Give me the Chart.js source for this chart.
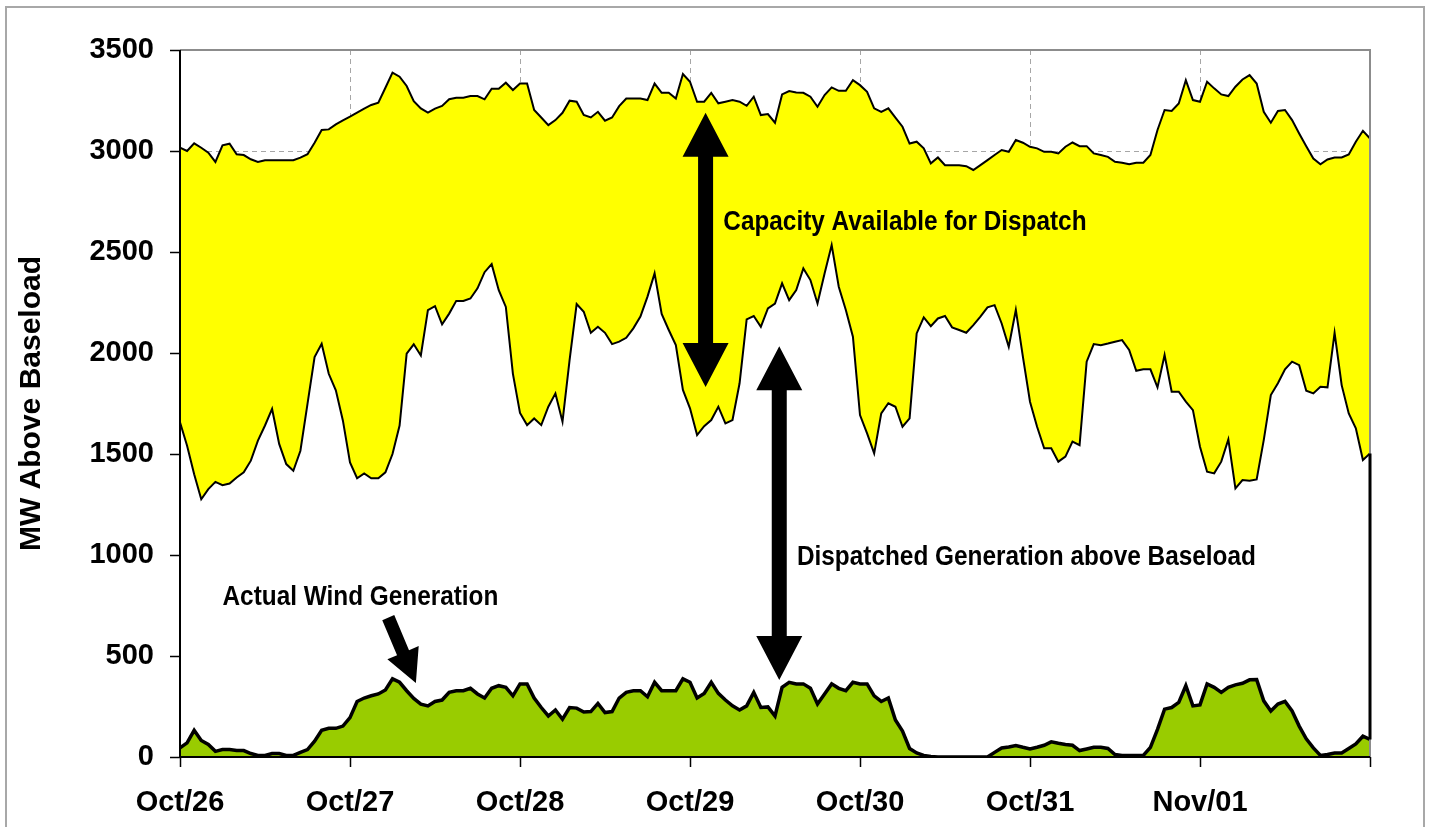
<!DOCTYPE html>
<html>
<head>
<meta charset="utf-8">
<title>MW Above Baseload</title>
<script src="https://cdn.jsdelivr.net/npm/chart.js@4.4.1/dist/chart.umd.min.js"></script>
<style>
  html, body { margin: 0; padding: 0; background: #fff; }
  canvas { display: block; }
</style>
</head>
<body>
<canvas id="myChart" width="1430" height="827"></canvas>
<script>
// hourly readings, Oct/26 00:00 .. Nov/02 00:00 (one row per day)
var dayLabels = ['Oct/26', 'Oct/27', 'Oct/28', 'Oct/29', 'Oct/30', 'Oct/31', 'Nov/01'];
var yTicks = [0, 500, 1000, 1500, 2000, 2500, 3000, 3500];

var capacity = [
  3016, 3000, 3038, 3016, 2992, 2946, 3028, 3036, 2984, 2980, 2959, 2946, 2954, 2954, 2954, 2954, 2954, 2967, 2984, 3041, 3104, 3107, 3132, 3152,
  3170, 3190, 3210, 3228, 3239, 3313, 3388, 3368, 3322, 3247, 3211, 3190, 3210, 3223, 3256, 3264, 3264, 3272, 3272, 3256, 3308, 3308, 3338, 3302,
  3334, 3334, 3203, 3166, 3128, 3153, 3189, 3249, 3244, 3178, 3166, 3194, 3150, 3166, 3222, 3260, 3260, 3260, 3252, 3334, 3288, 3288, 3260, 3381,
  3343, 3244, 3244, 3288, 3236, 3244, 3252, 3244, 3224, 3269, 3178, 3183, 3140, 3280, 3297, 3290, 3288, 3269, 3219, 3277, 3315, 3298, 3298, 3351,
  3326, 3293, 3211, 3194, 3211, 3165, 3120, 3037, 3046, 3013, 2939, 2968, 2930, 2930, 2930, 2925, 2906, 2930, 2955, 2980, 3005, 2996, 3054, 3041,
  3021, 3013, 2996, 2996, 2988, 3021, 3042, 3024, 3024, 2988, 2980, 2971, 2947, 2942, 2934, 2942, 2942, 2980, 3104, 3203, 3198, 3235, 3351, 3252,
  3244, 3343, 3310, 3280, 3272, 3318, 3354, 3376, 3334, 3194, 3140, 3198, 3203, 3153, 3087, 3024, 2963, 2934, 2958, 2968, 2968, 2983, 3046, 3100,
  3062
];

var dispatched = [
  1657, 1541, 1400, 1276, 1326, 1362, 1346, 1354, 1384, 1409, 1467, 1566, 1641, 1723, 1550, 1450, 1417, 1516, 1748, 1980, 2046, 1897, 1815, 1665,
  1458, 1380, 1404, 1380, 1380, 1409, 1500, 1641, 1997, 2043, 1988, 2212, 2232, 2142, 2195, 2258, 2258, 2270, 2320, 2400, 2440, 2311, 2228, 1897,
  1703, 1643, 1676, 1643, 1734, 1800, 1660, 1965, 2242, 2204, 2100, 2130, 2100, 2044, 2056, 2075, 2122, 2180, 2279, 2394, 2193, 2114, 2039, 1817,
  1726, 1594, 1638, 1668, 1734, 1651, 1668, 1850, 2166, 2183, 2130, 2221, 2245, 2345, 2262, 2312, 2419, 2361, 2245, 2394, 2534, 2328, 2213, 2081,
  1693, 1602, 1503, 1701, 1751, 1734, 1635, 1676, 2097, 2176, 2133, 2171, 2183, 2127, 2114, 2100, 2138, 2180, 2226, 2237, 2146, 2031, 2213, 1981,
  1759, 1635, 1528, 1528, 1462, 1487, 1561, 1544, 1957, 2044, 2039, 2047, 2056, 2064, 2015, 1912, 1919, 1919, 1830, 1990, 1808, 1808, 1759, 1717,
  1536, 1412, 1404, 1462, 1572, 1330, 1371, 1368, 1374, 1569, 1792, 1850, 1919, 1957, 1940, 1813, 1800, 1833, 1830, 2100, 1841, 1701, 1627, 1470,
  1503
];

var wind = [
  45, 70, 132, 82, 62, 28, 37, 37, 32, 32, 17, 8, 8, 17, 17, 8, 8, 23, 37, 78, 132, 142, 142, 153,
  195, 275, 292, 303, 312, 332, 387, 370, 328, 290, 262, 253, 275, 282, 320, 328, 328, 340, 312, 292, 340, 353, 345, 303,
  362, 362, 292, 245, 203, 233, 187, 245, 242, 223, 225, 265, 220, 225, 292, 320, 328, 328, 298, 370, 328, 328, 328, 387,
  370, 292, 315, 370, 315, 282, 253, 233, 253, 320, 245, 248, 203, 345, 370, 362, 362, 340, 262, 312, 362, 340, 328, 370,
  362, 362, 303, 275, 292, 183, 128, 42, 20, 8, 2, 0, 0, 0, 0, 0, 0, 0, 0, 23, 45, 50, 57, 48,
  40, 48, 58, 75, 68, 62, 58, 32, 40, 48, 48, 42, 12, 8, 8, 8, 8, 48, 137, 237, 245, 270, 353, 253,
  258, 362, 345, 320, 345, 357, 365, 382, 383, 278, 228, 262, 275, 228, 153, 90, 45, 8, 12, 20, 20, 42, 65, 103,
  87
];

var hours = capacity.map(function (v, i) { return i; });

// callouts, placed in data units (hour, MW)
var noteText = ['Capacity Available for Dispatch', 'Dispatched Generation above Baseload', 'Actual Wind Generation'];
var noteHour = [76.7, 87.1, 6.0];
var noteMW = [2609, 950, 752];

// arrows: [hourFrom, mwFrom, hourTo, mwTo, twoHeads]
var arrows = [
  [74.2, 3189, 74.2, 1832, true],
  [84.6, 2034, 84.6, 381, true],
  [29.4, 690, 33.3, 366, false]
];

var FONT = '"Liberation Sans", Arial, Helvetica, sans-serif';

function arrowPath(ctx, x0, y0, x1, y1, both, shaft, headLen, headW) {
  var dx = x1 - x0, dy = y1 - y0, len = Math.sqrt(dx * dx + dy * dy);
  var ux = dx / len, uy = dy / len, nx = -uy, ny = ux;
  var b0x = both ? x0 + ux * headLen : x0, b0y = both ? y0 + uy * headLen : y0;
  var b1x = x1 - ux * headLen, b1y = y1 - uy * headLen;
  var s = shaft / 2, h = headW / 2;
  ctx.beginPath();
  if (both) {
    ctx.moveTo(x0, y0);
    ctx.lineTo(b0x + nx * h, b0y + ny * h);
  } else {
    ctx.moveTo(b0x + nx * s, b0y + ny * s);
  }
  ctx.lineTo(b0x + nx * s, b0y + ny * s);
  ctx.lineTo(b1x + nx * s, b1y + ny * s);
  ctx.lineTo(b1x + nx * h, b1y + ny * h);
  ctx.lineTo(x1, y1);
  ctx.lineTo(b1x - nx * h, b1y - ny * h);
  ctx.lineTo(b1x - nx * s, b1y - ny * s);
  ctx.lineTo(b0x - nx * s, b0y - ny * s);
  if (both) ctx.lineTo(b0x - nx * h, b0y - ny * h);
  ctx.closePath();
  ctx.fill();
}

var decorations = {
  id: 'decorations',
  afterDatasetsDraw: function (chart) {
    var ctx = chart.ctx, a = chart.chartArea;
    var xs = chart.scales.x, ys = chart.scales.y;
    ctx.save();

    // outer frame
    ctx.strokeStyle = '#a8a8a8';
    ctx.lineWidth = 2;
    ctx.beginPath();
    ctx.moveTo(6, 827); ctx.lineTo(6, 7); ctx.lineTo(1424, 7); ctx.lineTo(1424, 827);
    ctx.stroke();

    // plot border: grey top/right, black axes
    ctx.strokeStyle = '#8c8c8c';
    ctx.lineWidth = 2;
    ctx.beginPath();
    ctx.moveTo(a.left, a.top); ctx.lineTo(a.right, a.top); ctx.lineTo(a.right, a.bottom);
    ctx.stroke();

    var last = hours.length - 1;
    var xe = xs.getPixelForValue(hours[last]);
    ctx.strokeStyle = '#000';
    ctx.lineWidth = 3;
    ctx.beginPath();
    ctx.moveTo(xe, ys.getPixelForValue(dispatched[last]));
    ctx.lineTo(xe, ys.getPixelForValue(wind[last]));
    ctx.stroke();

    ctx.lineWidth = 2;
    ctx.beginPath();
    ctx.moveTo(a.left, a.top); ctx.lineTo(a.left, a.bottom); ctx.lineTo(a.right, a.bottom);
    ctx.stroke();

    // arrows
    ctx.fillStyle = '#000';
    arrows.forEach(function (r, i) {
      var big = i < 2;
      arrowPath(ctx,
        xs.getPixelForValue(r[0]), ys.getPixelForValue(r[1]),
        xs.getPixelForValue(r[2]), ys.getPixelForValue(r[3]),
        r[4], big ? 15 : 13, big ? 44 : 33, big ? 46 : 34);
    });

    // callout text (condensed bold)
    ctx.font = 'bold 28px ' + FONT;
    ctx.textBaseline = 'alphabetic';
    ctx.textAlign = 'left';
    noteText.forEach(function (t, i) {
      ctx.save();
      ctx.translate(xs.getPixelForValue(noteHour[i]), ys.getPixelForValue(noteMW[i]));
      ctx.scale(0.87, 1);
      ctx.fillText(t, 0, 0);
      ctx.restore();
    });

    ctx.restore();
  }
};

var ctx = document.getElementById('myChart');

var myChart = new Chart(ctx, {
  type: 'line',
  data: {
    labels: hours,
    datasets: [{
      label: 'Actual Wind Generation',
      data: wind,
      borderColor: '#000',
      borderWidth: 3.5,
      backgroundColor: '#99CC00',
      fill: 'origin'
    }, {
      label: 'Dispatched Generation above Baseload',
      data: dispatched,
      borderColor: '#000',
      borderWidth: 2,
      backgroundColor: '#FFFFFF',
      fill: 'origin'
    }, {
      label: 'Capacity Available for Dispatch',
      data: capacity,
      borderColor: '#000',
      borderWidth: 2,
      backgroundColor: '#FFFF00',
      fill: 'origin'
    }]
  },
  options: {
    responsive: false,
    animation: false,
    events: [],
    elements: {
      point: { radius: 0 },
      line: { tension: 0, borderJoinStyle: 'miter' }
    },
    layout: { padding: { left: 0, top: 50, right: 60, bottom: 0 } },
    plugins: {
      legend: { display: false },
      tooltip: { enabled: false }
    },
    scales: {
      x: {
        type: 'linear',
        min: hours[0],
        max: hours[hours.length - 1],
        afterFit: function (s) { s.height = 70; },
        ticks: {
          stepSize: 24,
          autoSkip: false,
          maxRotation: 0,
          padding: 19,
          color: '#000',
          font: { family: FONT, size: 29, weight: 'bold' },
          callback: function (v) { return dayLabels[v / 24] || ''; }
        },
        grid: { color: '#a6a6a6', lineWidth: 1, tickLength: 10, tickColor: '#000', tickWidth: 1.5 },
        border: { display: false, dash: [5, 4] }
      },
      y: {
        min: yTicks[0],
        max: yTicks[yTicks.length - 1],
        afterFit: function (s) { s.width = 180; },
        ticks: {
          stepSize: yTicks[1] - yTicks[0],
          padding: 16,
          color: '#000',
          font: { family: FONT, size: 29, weight: 'bold' },
          callback: function (v) { return String(v); }
        },
        grid: { color: '#a6a6a6', lineWidth: 1, tickLength: 10, tickColor: '#000', tickWidth: 1.5 },
        border: { display: false, dash: [5, 4] },
        title: {
          display: true,
          text: 'MW Above Baseload',
          color: '#000',
          font: { family: FONT, size: 30, weight: 'bold' },
          padding: { top: 14, bottom: 0 }
        }
      }
    }
  },
  plugins: [decorations]
});
</script>
</body>
</html>
